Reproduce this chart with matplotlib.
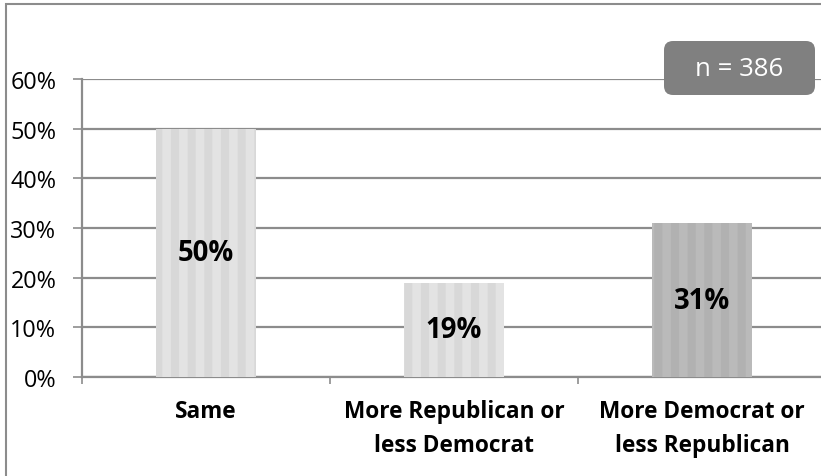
import matplotlib
matplotlib.use("Agg")
import matplotlib.pyplot as plt
from matplotlib.patches import FancyBboxPatch, Rectangle
from matplotlib.ticker import PercentFormatter, FixedLocator

categories = ["Same", "More Republican or\nless Democrat", "More Democrat or\nless Republican"]
values = [50, 19, 31]
bar_colors = ["#E3E3E3", "#E3E3E3", "#BABABA"]
stripe_colors = ["#D8D8D8", "#D8D8D8", "#B1B1B1"]
yticks = [0, 10, 20, 30, 40, 50, 60]
note = "n = 386"

FONT = "Open Sans"
plt.rcParams["font.family"] = [FONT, "DejaVu Sans"]
plt.rcParams["hatch.linewidth"] = 5.8

W, H = 821, 477
fig = plt.figure(figsize=(W / 100, H / 100), dpi=100)

# outer chart frame (top + left visible)
fig.add_artist(Rectangle((6 / W, -0.1), 2.0, (H - 5) / H + 0.1, transform=fig.transFigure,
                         fill=False, edgecolor="#8C8C8C", linewidth=1.5))

left, right = 82, 821
bottom, top = H - 378, H - 80
ax = fig.add_axes([left / W, bottom / H, (right - left) / W, (top - bottom) / H])

cat_w = 248
x = list(range(len(values)))
ax.set_xlim(-0.5, -0.5 + (right - left) / cat_w)
ax.set_ylim(0, 60)

for i, v in enumerate(values):
    ax.bar(i, v, width=0.405, color=bar_colors[i], edgecolor=stripe_colors[i],
           linewidth=0, hatch="|", zorder=3)
    ax.text(i, v / 2, f"{v}%", ha="center", va="center", fontsize=19.8,
            fontweight="bold", color="#000000", zorder=4)

ax.yaxis.set_major_locator(FixedLocator(yticks))
ax.yaxis.set_major_formatter(PercentFormatter(decimals=0))
ax.grid(axis="y", color="#8C8C8C", linewidth=1.6, zorder=1)
ax.set_axisbelow(True)

for s in ["top", "right"]:
    ax.spines[s].set_visible(False)
ax.spines["left"].set_color("#8C8C8C")
ax.spines["left"].set_linewidth(1.6)
ax.spines["bottom"].set_color("#8C8C8C")
ax.spines["bottom"].set_linewidth(1.6)

ax.tick_params(axis="y", length=6.5, width=1.2, color="#8C8C8C", labelsize=16.8,
               labelcolor="#000000", pad=12)
ax.set_xticks([-0.5, 0.5, 1.5])
ax.set_xticklabels([])
ax.tick_params(axis="x", length=5, width=1.2, color="#8C8C8C")
ax.set_xticks(x, minor=True)
ax.set_xticklabels(categories, minor=True, fontsize=16.3, fontweight="bold",
                   color="#000000", linespacing=1.55)
ax.tick_params(axis="x", which="minor", length=0, pad=16)

# n annotation box
bx0, by0, bx1, by1 = 664, 42, 815, 96
box = FancyBboxPatch((bx0 / W, 1 - by1 / H), (bx1 - bx0) / W, (by1 - by0) / H,
                     boxstyle="round,pad=0,rounding_size=0.011", transform=fig.transFigure,
                     facecolor="#808080", edgecolor="none", zorder=10,
                     mutation_aspect=W / H)
fig.add_artist(box)
fig.text((bx0 + bx1) / 2 / W, 1 - (by0 + by1) / 2 / H, note, ha="center", va="center",
         fontsize=18.5, color="white", zorder=11)

fig.savefig("out.png", dpi=100)
